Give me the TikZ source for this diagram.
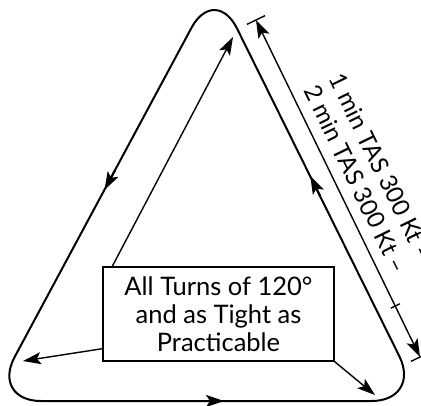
\documentclass[tikz,border=0pt]{standalone}
\usepackage{fontspec}
\setmainfont{Lato}
\usetikzlibrary{arrows.meta,calc}
\begin{document}
\begin{tikzpicture}[x=1pt,y=-1pt,
  outline/.style={line width=2pt},
  leader/.style={line width=1.4pt},
  head/.style={-{Stealth[length=18pt,width=12pt,inset=4pt]}},
  twohead/.style={{Stealth[length=18pt,width=12pt,inset=4pt]}-{Stealth[length=18pt,width=12pt,inset=4pt]}},
  boxtext/.style={font=\fontsize{25.5}{28}\selectfont, align=center, inner sep=0pt},
  dimtext/.style={font=\fontsize{24}{28}\selectfont, align=center, inner sep=0pt}]
\useasboundingbox (0,0) rectangle (421,405);
% triangle vertices
\coordinate (A) at (215,-16);
\coordinate (B) at (-9,401);
\coordinate (C) at (421.5,401);
\coordinate (M) at ($(B)!0.5!(C)$);
\draw[outline, rounded corners=50pt] (M) -- (C) -- (A) -- (B) -- cycle;
% travel direction arrows
\coordinate (l1) at (115.2,170);
\coordinate (l2) at (104.5,190);
\coordinate (b1) at (200,401);
\coordinate (b2) at (224,401);
\coordinate (r1) at (320.2,196);
\coordinate (r2) at (310.3,176);
\draw[outline, head] (l1) -- (l2);
\draw[outline, head] (b1) -- (b2);
\draw[outline, head] (r1) -- (r2);
% box
\node[draw, leader, boxtext, minimum width=231pt, minimum height=94pt] (box) at (218.5,314)
  {All Turns of 120°\\and as Tight as\\Practicable};
% leaders to the corners
\coordinate (tA) at (233,37);
\coordinate (tB) at (23,361);
\coordinate (tC) at (375,395);
\draw[leader, head] ([xshift=10pt]box.north west) -- (tA);
\draw[leader, head] ([yshift=13pt]box.south west) -- (tB);
\draw[leader, head] (box.south east) -- (tC);
% dimension line
\coordinate (D1) at (256,20);
\coordinate (D2) at (420,357);
\coordinate (Dm) at (395.3,306);
\draw[leader, twohead] (D1) -- (D2);
\draw[leader] ($(D1)!10pt!90:(D2)$) -- ($(D1)!10pt!-90:(D2)$);
\draw[leader] ($(D2)!10pt!90:(D1)$) -- ($(D2)!10pt!-90:(D1)$);
\draw[leader] ($(Dm)!5pt!90:(D2)$) -- ($(Dm)!5pt!-90:(D2)$);
\node[dimtext, rotate=-64] (dim) at (368.5,173) {1 min TAS 300 Kt –\\2 min TAS 300 Kt –};
\end{tikzpicture}
\end{document}
